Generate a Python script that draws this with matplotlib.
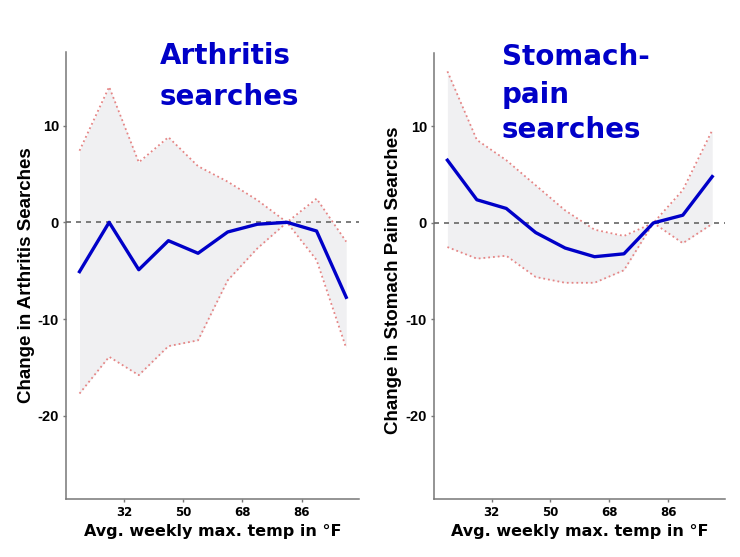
import matplotlib
matplotlib.use('Agg')
import matplotlib.pyplot as plt

plt.rcParams['axes.unicode_minus'] = False

# avg weekly max temp bins (F)
temps = [18.5, 27.5, 36.5, 45.5, 54.5, 63.5, 72.5, 81.5, 90.5, 99.5]

# arthritis searches
arth_est = [-5.1, 0.0, -4.9, -1.9, -3.2, -1.0, -0.2, 0.0, -0.9, -7.75]
arth_hi = [7.4, 14.0, 6.2, 8.8, 5.8, 4.2, 2.3, 0.0, 2.45, -2.0]
arth_lo = [-17.7, -13.9, -15.8, -12.8, -12.2, -6.0, -2.7, 0.0, -3.9, -13.0]

# stomach pain searches
stom_est = [6.5, 2.4, 1.5, -1.0, -2.6, -3.5, -3.2, 0.0, 0.8, 4.8]
stom_hi = [15.7, 8.6, 6.5, 3.9, 1.3, -0.7, -1.35, 0.0, 3.4, 9.6]
stom_lo = [-2.5, -3.7, -3.4, -5.6, -6.2, -6.2, -4.9, 0.0, -2.1, -0.1]

xticks = [32, 50, 68, 86]
yticks = [10, 0, -10, -20]

BLUE = '#0000c8'

fig = plt.figure(figsize=(7.4, 5.57), dpi=100)
ax1 = fig.add_axes([0.0892, 0.1041, 0.396, 0.8025])
ax2 = fig.add_axes([0.5865, 0.1041, 0.3932, 0.8007])


def panel(ax, est, lo, hi, ylab):
    ax.fill_between(temps, lo, hi, color='#f0f0f2', lw=0, zorder=1)
    ax.plot(temps, hi, ls=':', color='#e58585', lw=1.3, zorder=2)
    ax.plot(temps, lo, ls=':', color='#e58585', lw=1.3, zorder=2)
    ax.axhline(0, color='#666666', ls=(0, (3, 3)), lw=1.2, zorder=3)
    ax.plot(temps, est, color=BLUE, lw=2.4, zorder=4)
    ax.set_xlim(14.4, 103.4)
    ax.set_ylim(-28.6, 17.6)
    ax.set_xticks(xticks)
    ax.set_yticks(yticks)
    for s in ['top', 'right']:
        ax.spines[s].set_visible(False)
    for s in ['left', 'bottom']:
        ax.spines[s].set_color('#777777')
        ax.spines[s].set_linewidth(1.1)
    ax.tick_params(colors='#777777', length=2.5, width=1, labelcolor='black', pad=2.5)
    for lab in ax.get_yticklabels():
        lab.set_fontfamily('Liberation Sans')
        lab.set_fontweight('bold')
        lab.set_fontsize(10.5)
    for lab in ax.get_xticklabels():
        lab.set_fontfamily('DejaVu Sans')
        lab.set_fontweight('bold')
        lab.set_fontsize(8.5)
    ax.set_ylabel(ylab, family='Liberation Sans', weight='bold', fontsize=13.5)
    ax.set_xlabel('Avg. weekly max. temp in °F', family='DejaVu Sans', weight='bold', fontsize=11.5)
    ax.xaxis.set_label_coords(0.5, -0.056)


panel(ax1, arth_est, arth_lo, arth_hi, 'Change in Arthritis Searches')
panel(ax2, stom_est, stom_lo, stom_hi, 'Change in Stomach Pain Searches')
ax1.yaxis.set_label_coords(-0.105, 0.5)
ax2.yaxis.set_label_coords(-0.109, 0.49)

tkw = dict(color=BLUE, family='DejaVu Sans', weight='bold', fontsize=20, ha='left', va='baseline')
fig.text(0.216, 0.885, 'Arthritis', **tkw)
fig.text(0.216, 0.8115, 'searches', **tkw)
fig.text(0.678, 0.8833, 'Stomach-', **tkw)
fig.text(0.678, 0.815, 'pain', **tkw)
fig.text(0.678, 0.752, 'searches', **tkw)

fig.savefig('out.png', dpi=100)
